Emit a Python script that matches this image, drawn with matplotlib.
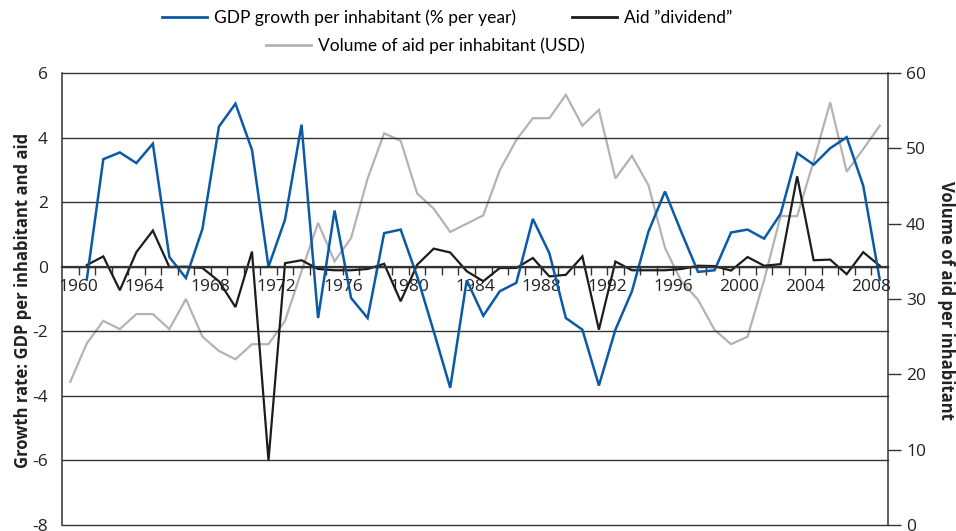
import numpy as np
import matplotlib.pyplot as plt
from matplotlib.lines import Line2D

# years
years = np.arange(1960, 2009)
aid_years = np.arange(1959, 2009)

# GDP growth per inhabitant (% per year)
gdp_growth = [-0.4, 3.33, 3.54, 3.21, 3.81, 0.30, -0.35, 1.17, 4.34, 5.05,
              3.62, 0.0, 1.46, 4.40, -1.59, 1.74, -0.97, -1.59, 1.04, 1.15,
              -0.3, -2.0, -3.75, -0.42, -1.52, -0.76, -0.5, 1.48, 0.42, -1.59,
              -1.95, -3.68, -1.95, -0.76, 1.09, 2.33, 1.06, -0.16, -0.11, 1.06,
              1.15, 0.87, 1.64, 3.52, 3.16, 3.67, 4.01, 2.51, -0.4]

# Aid "dividend"
aid_dividend = [0.05, 0.32, -0.73, 0.45, 1.12, -0.01, 0.0, -0.04, -0.45, -1.25,
                0.47, -6.0, 0.11, 0.2, -0.07, -0.11, -0.11, -0.07, 0.09, -1.07,
                0.06, 0.56, 0.44, -0.14, -0.45, -0.04, -0.04, 0.27, -0.3, -0.25,
                0.32, -1.95, 0.16, -0.11, -0.11, -0.11, -0.07, 0.03, 0.02, -0.12,
                0.3, 0.03, 0.08, 2.8, 0.2, 0.22, -0.23, 0.45, 0.03]

# Volume of aid per inhabitant (USD), starts 1959
aid_volume = [19.0, 24.1, 27.1, 26.0, 28.0, 28.0, 26.0, 30.0, 25.0, 23.1,
              22.0, 24.0, 24.0, 27.1, 33.7, 40.1, 35.0, 38.1, 46.0, 52.0,
              51.0, 44.0, 42.0, 38.9, 40.0, 41.1, 47.1, 51.1, 54.0, 54.0,
              57.1, 53.0, 55.1, 46.0, 49.0, 45.1, 36.8, 32.3, 29.9, 25.9,
              24.0, 25.0, 32.5, 41.0, 41.0, 48.3, 56.1, 46.9, 49.9, 53.0]

label_years = list(range(1960, 2009, 4))

BLUE = '#0a5aa8'
BLACK = '#1c1c1c'
GREY = '#b3b3b3'
DARK = '#333333'

plt.rcParams['font.family'] = ['Open Sans', 'DejaVu Sans']
plt.rcParams['axes.unicode_minus'] = False

fig = plt.figure(figsize=(9.56, 5.31), dpi=100)
ax = fig.add_axes([62/956, 1-525/531, (888-62)/956, (525-73)/531])
ax2 = ax.twinx()
ax.set_zorder(ax2.get_zorder() + 1)
ax.patch.set_visible(False)

# grey series on right axis (drawn behind)
ax2.plot(aid_years, aid_volume, color=GREY, lw=1.6, solid_joinstyle='miter')
ax2.set_ylim(0, 60)
ax2.set_yticks(range(0, 61, 10))
ax2.tick_params(axis='y', length=9, width=1, color=DARK, pad=4, labelsize=12.5,
                labelcolor='#222222')
for s in ['top', 'bottom', 'left']:
    ax2.spines[s].set_visible(False)
ax2.spines['right'].set_color(DARK)
ax2.spines['right'].set_linewidth(1.1)

# left axis series
ax.plot(years, aid_dividend, color=BLACK, lw=1.6, solid_joinstyle='miter')
ax.plot(years, gdp_growth, color=BLUE, lw=1.8, solid_joinstyle='miter')

ax.set_ylim(-8, 6)
ax.set_xlim(1958.5, 2008.5)
ax.set_yticks(range(-8, 7, 2))
ax.yaxis.grid(True, color=DARK, lw=1.0)
for gl in ax.get_ygridlines():
    gl.set_clip_on(False)
ax.set_axisbelow(True)
ax.tick_params(axis='y', length=0, pad=10, labelsize=12.5, labelcolor='#222222')

ax.spines['top'].set_visible(False)
ax.spines['right'].set_visible(False)
ax.spines['left'].set_color(DARK)
ax.spines['left'].set_linewidth(1.1)
ax.spines['bottom'].set_position(('data', 0))
ax.spines['bottom'].set_color(DARK)
ax.spines['bottom'].set_linewidth(1.6)

ax.set_xticks([y - 0.5 for y in years])
ax.set_xticklabels([str(y) if y in label_years else '' for y in years])
ax.tick_params(axis='x', direction='out', length=6, width=1, color=DARK, pad=3,
               labelsize=12.5, labelcolor='#222222')

fig.text(0.024, 0.435, 'Growth rate: GDP per inhabitant and aid', rotation=90,
         ha='center', va='center', fontsize=12, fontweight='bold', color='#222222')
fig.text(0.99, 0.435, 'Volume of aid per inhabitant', rotation=-90,
         ha='center', va='center', fontsize=12, fontweight='bold', color='#222222')

leg_font = {'family': ['Lato', 'DejaVu Sans'], 'size': 12.5}
h1 = [Line2D([], [], color=BLUE, lw=2), Line2D([], [], color=BLACK, lw=2)]
fig.legend(h1, ['GDP growth per inhabitant (% per year)', 'Aid \u201ddividend\u201d'],
           loc='center', bbox_to_anchor=(447/956, 1-18/531), ncol=2,
           frameon=False, prop=leg_font, handlelength=2.6, columnspacing=3.2,
           handletextpad=0.4, borderaxespad=0)
h2 = [Line2D([], [], color=GREY, lw=2)]
fig.legend(h2, ['Volume of aid per inhabitant (USD)'],
           loc='center', bbox_to_anchor=(425/956, 1-46/531), ncol=1,
           frameon=False, prop=leg_font, handlelength=2.6, handletextpad=0.4,
           borderaxespad=0)

fig.savefig('out.png', dpi=100)
